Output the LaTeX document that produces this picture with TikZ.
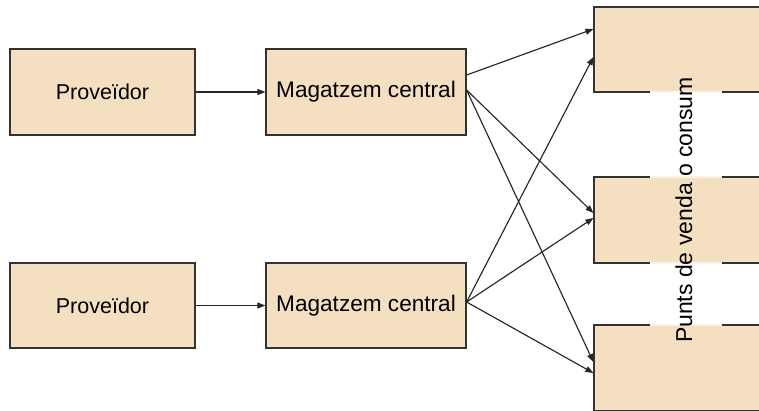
\documentclass[tikz,border=0pt]{standalone}
\usepackage{fontspec}
\setmainfont{Liberation Sans}
\usetikzlibrary{arrows.meta,calc}
\definecolor{boxfill}{HTML}{F4E0C1}
\definecolor{boxline}{HTML}{333333}
\definecolor{gapfill}{HTML}{FBF4EA}
\begin{document}
\begin{tikzpicture}[x=1pt,y=-1pt,
  flowbox/.style={draw=boxline,fill=boxfill,line width=1.2pt,inner sep=0pt},
  flowarrow/.style={draw=black!85,line width=1.15pt,-{Triangle[length=8pt,width=6pt]}},
  gapmark/.style={draw=gapfill,line width=2.2pt}]
  \useasboundingbox (0,0) rectangle (759,410);
  \clip (0,0) rectangle (759,410);
  % suppliers and central warehouses
  \node[flowbox,minimum width=185pt,minimum height=86pt,font=\fontsize{21.5}{24}\selectfont] (prov1) at (102.5,92) {Proveïdor};
  \node[flowbox,minimum width=200pt,minimum height=86pt,font=\fontsize{22.6}{24}\selectfont] (mag1) at (366,92) {Magatzem central};
  \node[flowbox,minimum width=185pt,minimum height=85pt,font=\fontsize{21.5}{24}\selectfont] (prov2) at (102.5,305.5) {Proveïdor};
  \node[flowbox,minimum width=200pt,minimum height=85pt,font=\fontsize{22.6}{24}\selectfont] (mag2) at (366,305.5) {Magatzem central};
  % points of sale
  \node[flowbox,minimum width=186pt,minimum height=85pt] (pv1) at (687,49.5) {};
  \node[flowbox,minimum width=186pt,minimum height=86pt] (pv2) at (687,220) {};
  \node[flowbox,minimum width=186pt,minimum height=86pt] (pv3) at (687,368) {};
  % breaks in the borders where the vertical label crosses
  \draw[gapmark] (650,92) -- (722,92);
  \draw[gapmark] (650,177) -- (722,177);
  \draw[gapmark] (650,263) -- (722,263);
  \draw[gapmark] (650,325) -- (722,325);
  \node[rotate=90,inner sep=0pt,font=\fontsize{23}{24}\selectfont] (label) at (684,210) {Punts de venda o consum};
  % flows
  \draw[flowarrow] (prov1.east) -- (mag1.west);
  \draw[flowarrow] (prov2.east) -- (mag2.west);
  \draw[flowarrow] ($(mag1.east)+(0,-17)$) -- ($(pv1.west)+(0,-20.5)$);
  \draw[flowarrow] ($(mag1.east)+(0,-2)$) -- ($(pv2.west)+(0,-7)$);
  \draw[flowarrow] ($(mag1.east)+(0,-2)$) -- ($(pv3.west)+(0,-6)$);
  \draw[flowarrow] ($(mag2.east)+(0,-3.5)$) -- ($(pv1.west)+(0,7.5)$);
  \draw[flowarrow] ($(mag2.east)+(0,-3.5)$) -- ($(pv2.west)+(0,-2)$);
  \draw[flowarrow] ($(mag2.east)+(0,-3.5)$) -- ($(pv3.west)+(0,5)$);
\end{tikzpicture}
\end{document}
